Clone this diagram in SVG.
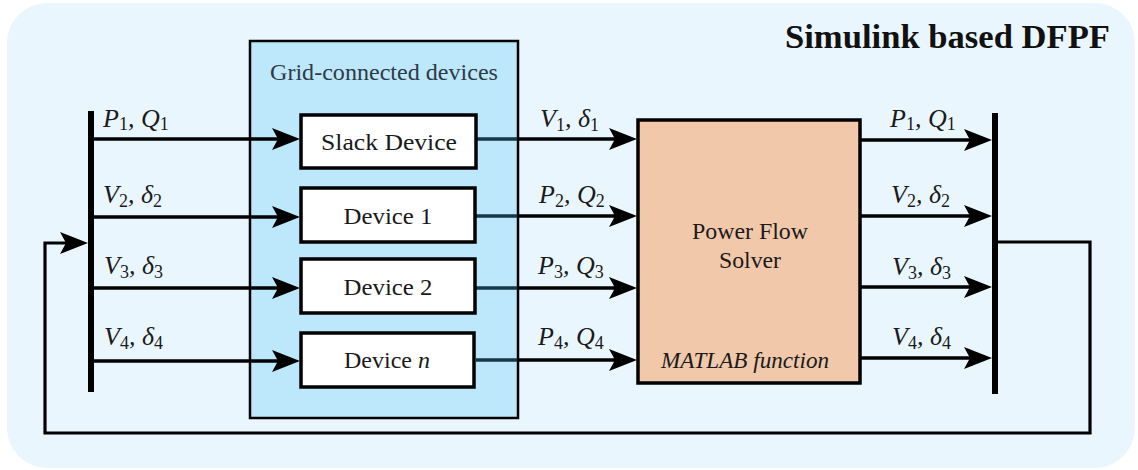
<svg xmlns="http://www.w3.org/2000/svg" width="1138" height="470" viewBox="0 0 1138 470">
  <style>
    .lbl { font-family: "Liberation Serif", "Times New Roman", serif; font-size: 26px; font-style: italic; fill: #1a1a1a; }
    .sub { font-size: 18px; font-style: normal; }
    .dev { font-family: "Liberation Serif", "Times New Roman", serif; font-size: 24px; fill: #1a1a1a; text-anchor: middle; }
    .box { fill: #ffffff; stroke: #000; stroke-width: 3.5; }
    .wire { stroke: #000; stroke-width: 3.5; fill: none; }
    .wire2 { stroke: #17394a; stroke-width: 3.5; fill: none; }
    .bus { stroke: #000; stroke-width: 6; }
  </style>
  <defs>
    <marker id="ah" markerUnits="userSpaceOnUse" viewBox="0 0 28 22" refX="22" refY="11" markerWidth="28" markerHeight="22" orient="auto">
      <path d="M0,0 L28,11 L0,22 L6,11 Z" fill="#000"/>
    </marker>
  </defs>

  <rect id="background" x="7" y="3" width="1128" height="465" rx="40" ry="40" fill="#eaf6fe"/>
  <text id="title" x="785" y="48" font-family="'Liberation Serif', 'Times New Roman', serif" font-size="34" font-weight="bold" fill="#111" textLength="325" lengthAdjust="spacingAndGlyphs">Simulink based DFPF</text>

  <g id="grid-devices">
    <rect x="250" y="41" width="268" height="377" fill="#bde8fc" stroke="#000" stroke-width="2.5"/>
    <text x="384" y="80" font-family="'Liberation Serif', 'Times New Roman', serif" font-size="23" fill="#2d3b45" text-anchor="middle" textLength="228" lengthAdjust="spacingAndGlyphs">Grid-connected devices</text>
  </g>

  <g id="connectors">
    <!-- left bus to devices -->
    <line class="wire" x1="94" y1="139" x2="294" y2="139" marker-end="url(#ah)"/>
    <line class="wire" x1="94" y1="217" x2="294" y2="217" marker-end="url(#ah)"/>
    <line class="wire" x1="94" y1="288" x2="294" y2="288" marker-end="url(#ah)"/>
    <line class="wire" x1="94" y1="361" x2="294" y2="361" marker-end="url(#ah)"/>
    <!-- devices to solver -->
    <line class="wire2" x1="476" y1="139" x2="518" y2="139"/>
    <line class="wire2" x1="476" y1="216" x2="518" y2="216"/>
    <line class="wire2" x1="476" y1="288" x2="518" y2="288"/>
    <line class="wire2" x1="476" y1="360" x2="518" y2="360"/>
    <line class="wire" x1="517" y1="139" x2="631" y2="139" marker-end="url(#ah)"/>
    <line class="wire" x1="517" y1="216" x2="631" y2="216" marker-end="url(#ah)"/>
    <line class="wire" x1="517" y1="288" x2="631" y2="288" marker-end="url(#ah)"/>
    <line class="wire" x1="517" y1="360" x2="631" y2="360" marker-end="url(#ah)"/>
    <!-- solver to right bus -->
    <line class="wire" x1="860" y1="140" x2="986" y2="140" marker-end="url(#ah)"/>
    <line class="wire" x1="860" y1="216" x2="986" y2="216" marker-end="url(#ah)"/>
    <line class="wire" x1="860" y1="287" x2="986" y2="287" marker-end="url(#ah)"/>
    <line class="wire" x1="860" y1="358" x2="986" y2="358" marker-end="url(#ah)"/>
    <!-- feedback loop -->
    <path d="M998,242 H1090 V433 H45 V243 H82" stroke="#000" stroke-width="3.2" fill="none" stroke-linejoin="miter" marker-end="url(#ah)"/>
  </g>

  <g id="left-bus">
    <line class="bus" x1="91" y1="111" x2="91" y2="392"/>
  </g>
  <g id="right-bus">
    <line class="bus" x1="995" y1="113" x2="995" y2="394"/>
  </g>

  <g id="slack-device">
    <rect class="box" x="301" y="115" width="175" height="53"/>
    <text class="dev" x="389" y="150" textLength="136" lengthAdjust="spacingAndGlyphs">Slack Device</text>
  </g>
  <g id="device-1">
    <rect class="box" x="301" y="188" width="174" height="54"/>
    <text class="dev" x="388" y="224" textLength="89" lengthAdjust="spacingAndGlyphs">Device 1</text>
  </g>
  <g id="device-2">
    <rect class="box" x="301" y="259" width="174" height="54"/>
    <text class="dev" x="388" y="295" textLength="89" lengthAdjust="spacingAndGlyphs">Device 2</text>
  </g>
  <g id="device-n">
    <rect class="box" x="301" y="333" width="173" height="54"/>
    <text class="dev" x="387" y="368">Device <tspan font-style="italic">n</tspan></text>
  </g>

  <g id="power-flow-solver">
    <rect x="638" y="120" width="222" height="263" fill="#f1c8aa" stroke="#000" stroke-width="3.5"/>
    <text class="dev" x="750" y="239" textLength="116" lengthAdjust="spacingAndGlyphs">Power Flow</text>
    <text class="dev" x="750" y="268" textLength="62" lengthAdjust="spacingAndGlyphs">Solver</text>
    <text class="dev" x="745" y="368" font-style="italic" font-size="22" textLength="168" lengthAdjust="spacingAndGlyphs">MATLAB function</text>
  </g>

  <g id="labels">
    <text class="lbl" x="103" y="127">P<tspan class="sub" dy="3">1</tspan><tspan dy="-3">, Q</tspan><tspan class="sub" dy="3">1</tspan></text>
    <text class="lbl" x="103" y="203">V<tspan class="sub" dy="4">2</tspan><tspan dy="-4">, δ</tspan><tspan class="sub" dy="4">2</tspan></text>
    <text class="lbl" x="104" y="274">V<tspan class="sub" dy="4">3</tspan><tspan dy="-4">, δ</tspan><tspan class="sub" dy="4">3</tspan></text>
    <text class="lbl" x="104" y="345">V<tspan class="sub" dy="4">4</tspan><tspan dy="-4">, δ</tspan><tspan class="sub" dy="4">4</tspan></text>

    <text class="lbl" x="540" y="127">V<tspan class="sub" dy="4">1</tspan><tspan dy="-4">, δ</tspan><tspan class="sub" dy="4">1</tspan></text>
    <text class="lbl" x="539" y="203">P<tspan class="sub" dy="4">2</tspan><tspan dy="-4">, Q</tspan><tspan class="sub" dy="4">2</tspan></text>
    <text class="lbl" x="538" y="274">P<tspan class="sub" dy="4">3</tspan><tspan dy="-4">, Q</tspan><tspan class="sub" dy="4">3</tspan></text>
    <text class="lbl" x="538" y="345">P<tspan class="sub" dy="4">4</tspan><tspan dy="-4">, Q</tspan><tspan class="sub" dy="4">4</tspan></text>

    <text class="lbl" x="890" y="127">P<tspan class="sub" dy="3">1</tspan><tspan dy="-3">, Q</tspan><tspan class="sub" dy="3">1</tspan></text>
    <text class="lbl" x="891" y="203">V<tspan class="sub" dy="4">2</tspan><tspan dy="-4">, δ</tspan><tspan class="sub" dy="4">2</tspan></text>
    <text class="lbl" x="892" y="275">V<tspan class="sub" dy="4">3</tspan><tspan dy="-4">, δ</tspan><tspan class="sub" dy="4">3</tspan></text>
    <text class="lbl" x="892" y="345">V<tspan class="sub" dy="4">4</tspan><tspan dy="-4">, δ</tspan><tspan class="sub" dy="4">4</tspan></text>
  </g>
</svg>
